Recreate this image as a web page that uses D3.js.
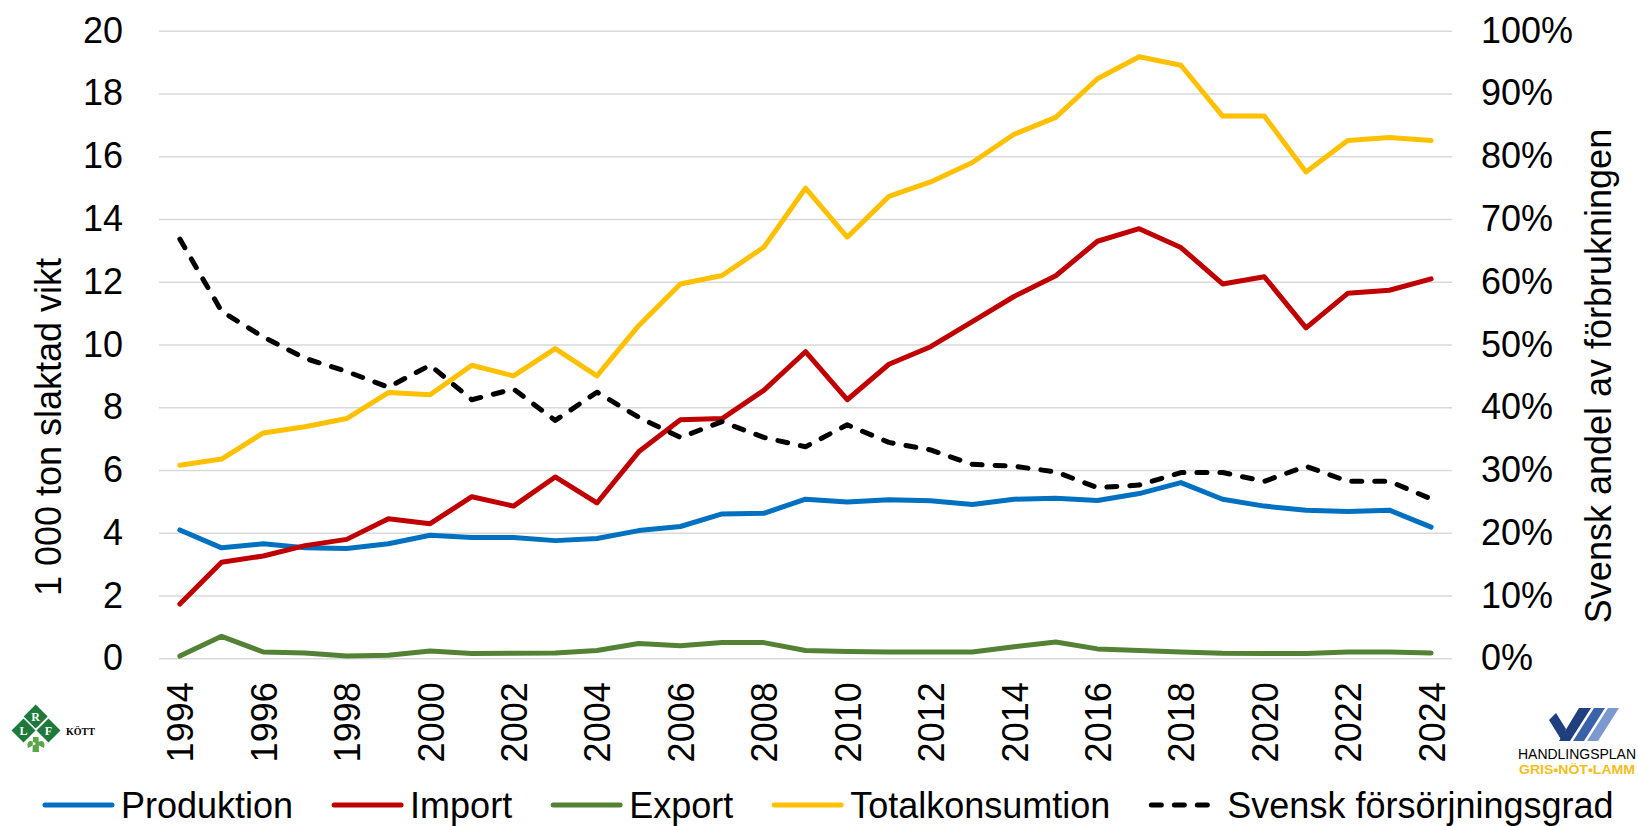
<!DOCTYPE html>
<html>
<head>
<meta charset="utf-8">
<script src="https://cdn.jsdelivr.net/npm/d3@7"></script>
<style>
  html, body { margin: 0; padding: 0; background: #fff; }
  svg { display: block; font-family: "Liberation Sans", Arial, sans-serif; }
</style>
</head>
<body>
<svg id="chart" width="1638" height="826"></svg>
<script>
// Data (1 000 ton slaktad vikt / percent)
var years = [1994, 1995, 1996, 1997, 1998, 1999, 2000, 2001, 2002, 2003, 2004,
  2005, 2006, 2007, 2008, 2009, 2010, 2011, 2012, 2013, 2014,
  2015, 2016, 2017, 2018, 2019, 2020, 2021, 2022, 2023, 2024];

var produktion = [4.09, 3.52, 3.65, 3.52, 3.50, 3.65, 3.92, 3.85, 3.85, 3.75, 3.82,
  4.07, 4.20, 4.60, 4.62, 5.07, 4.98, 5.05, 5.02, 4.90, 5.07,
  5.10, 5.03, 5.25, 5.60, 5.07, 4.85, 4.72, 4.68, 4.72, 4.18];

var importVals = [1.73, 3.06, 3.26, 3.59, 3.79, 4.45, 4.29, 5.15, 4.85, 5.78, 4.95,
  6.58, 7.60, 7.64, 8.54, 9.77, 8.24, 9.37, 9.93, 10.73, 11.53,
  12.19, 13.29, 13.69, 13.09, 11.93, 12.16, 10.53, 11.63, 11.73, 12.09];

var exportVals = [0.07, 0.70, 0.20, 0.17, 0.07, 0.10, 0.23, 0.15, 0.16, 0.17, 0.25,
  0.47, 0.40, 0.50, 0.50, 0.25, 0.22, 0.20, 0.20, 0.20, 0.37,
  0.52, 0.30, 0.25, 0.20, 0.16, 0.15, 0.15, 0.20, 0.20, 0.17];

var totalkonsumtion = [6.15, 6.35, 7.18, 7.38, 7.64, 8.47, 8.40, 9.34, 9.00, 9.87, 9.00,
  10.60, 11.93, 12.20, 13.10, 14.98, 13.42, 14.72, 15.18, 15.80, 16.70,
  17.24, 18.47, 19.17, 18.90, 17.28, 17.28, 15.50, 16.50, 16.60, 16.50];

var forsorjningsgrad = [66.8, 55.3, 51.2, 47.8, 45.7, 43.2, 46.7, 41.2, 42.9, 37.9, 42.4,
  38.4, 35.2, 37.7, 35.2, 33.7, 37.2, 34.4, 33.2, 30.9, 30.6,
  29.7, 27.2, 27.6, 29.6, 29.6, 28.2, 30.6, 28.2, 28.2, 25.4];

var leftTicks = [0, 2, 4, 6, 8, 10, 12, 14, 16, 18, 20];
var rightTicks = [0, 10, 20, 30, 40, 50, 60, 70, 80, 90, 100];
var yearTicks = [1994, 1996, 1998, 2000, 2002, 2004, 2006, 2008,
  2010, 2012, 2014, 2016, 2018, 2020, 2022, 2024];

var seriesNames = ["Produktion", "Import", "Export", "Totalkonsumtion", "Svensk försörjningsgrad"];

var series = [
  { name: seriesNames[0], values: produktion, color: "#0070c0", axis: "left" },
  { name: seriesNames[1], values: importVals, color: "#c00000", axis: "left" },
  { name: seriesNames[2], values: exportVals, color: "#548235", axis: "left" },
  { name: seriesNames[3], values: totalkonsumtion, color: "#ffc000", axis: "left" },
  { name: seriesNames[4], values: forsorjningsgrad, color: "#000000", axis: "right", dash: "10,13" }
];

var svg = d3.select("#chart");
var plotLeft = 159, plotRight = 1452, plotTop = 30.7, plotBottom = 658.3;
var fontSize = 36;
var fontFam = "'Liberation Sans', Arial, sans-serif";

var x = d3.scalePoint().domain(years).range([plotLeft, plotRight]).padding(0.5);
var y = d3.scaleLinear().domain([0, 20]).range([plotBottom, plotTop]);
var y2 = d3.scaleLinear().domain([0, 100]).range([plotBottom, plotTop]);

// gridlines + left labels
var gLeft = svg.append("g")
  .attr("transform", "translate(" + plotLeft + ",0)")
  .call(d3.axisLeft(y).tickValues(leftTicks).tickSize(-(plotRight - plotLeft)).tickPadding(36));
gLeft.select(".domain").remove();
gLeft.selectAll(".tick line").attr("stroke", "#d9d9d9").attr("stroke-width", 1.5);
gLeft.selectAll(".tick text").attr("fill", "#000").style("font-size", fontSize + "px")
  .style("font-family", fontFam);

// right labels
var gRight = svg.append("g")
  .attr("transform", "translate(" + plotRight + ",0)")
  .call(d3.axisRight(y2).tickValues(rightTicks).tickSize(0).tickPadding(29)
    .tickFormat(function(d) { return d + "%"; }));
gRight.select(".domain").remove();
gRight.selectAll(".tick text").attr("fill", "#000").style("font-size", fontSize + "px")
  .style("font-family", fontFam);

// year labels, rotated
var gBottom = svg.append("g")
  .attr("transform", "translate(0," + plotBottom + ")")
  .call(d3.axisBottom(x).tickValues(yearTicks).tickSize(0));
gBottom.select(".domain").remove();
gBottom.selectAll(".tick text")
  .attr("fill", "#000")
  .attr("x", -24).attr("y", 0).attr("dy", "0.36em")
  .attr("transform", "rotate(-90)")
  .style("text-anchor", "end")
  .style("font-size", fontSize + "px")
  .style("font-family", fontFam);

// axis titles
svg.append("text")
  .attr("transform", "translate(48,427) rotate(-90)")
  .attr("text-anchor", "middle").attr("dominant-baseline", "central")
  .style("font-size", fontSize + "px")
  .text("1 000 ton slaktad vikt");

svg.append("text")
  .attr("transform", "translate(1598,376) rotate(-90)")
  .attr("text-anchor", "middle").attr("dominant-baseline", "central")
  .style("font-size", fontSize + "px")
  .text("Svensk andel av förbrukningen");

// lines
series.forEach(function(s) {
  var yy = s.axis === "right" ? y2 : y;
  var line = d3.line()
    .x(function(d, i) { return x(years[i]); })
    .y(function(d) { return yy(d); });
  svg.append("path")
    .datum(s.values)
    .attr("d", line)
    .attr("fill", "none")
    .attr("stroke", s.color)
    .attr("stroke-width", 5)
    .attr("stroke-linejoin", "round")
    .attr("stroke-linecap", "round")
    .attr("stroke-dasharray", s.dash || null);
});

// legend
var lx = 43, ly = 805;
series.forEach(function(s) {
  svg.append("line")
    .attr("x1", lx + 2).attr("x2", lx + 69).attr("y1", ly).attr("y2", ly)
    .attr("stroke", s.color).attr("stroke-width", 5)
    .attr("stroke-linecap", "round")
    .attr("stroke-dasharray", s.dash ? "10,13" : null);
  var t = svg.append("text")
    .attr("x", lx + 78).attr("y", ly)
    .attr("dominant-baseline", "central")
    .style("font-size", fontSize + "px")
    .text(s.name);
  lx = lx + 78 + t.node().getComputedTextLength() + 39;
});

// LRF Kött logo (approximation)
var lrf = svg.append("g");
var diamonds = [["R", 35.7, 716.5], ["L", 23.5, 730.5], ["F", 48.5, 730.5]];
lrf.append("path")
  .attr("d", "M33,737 L38.5,737 L39,752 L32.5,752 Z M36,744 C30,738 26,742 28,748 Z M36,744 C42,738 46,742 44,748 Z")
  .attr("fill", "#5aa64a");
diamonds.forEach(function(d) {
  lrf.append("path")
    .attr("d", "M" + d[1] + "," + (d[2] - 12) + " L" + (d[1] + 12) + "," + d[2] +
      " L" + d[1] + "," + (d[2] + 12) + " L" + (d[1] - 12) + "," + d[2] + " Z")
    .attr("fill", "#1d7a3a");
  lrf.append("text")
    .attr("x", d[1]).attr("y", d[2] + 4)
    .attr("text-anchor", "middle")
    .attr("fill", "#fff")
    .style("font-family", "'Liberation Serif', serif").style("font-weight", "bold")
    .style("font-size", "12px")
    .text(d[0]);
});
lrf.append("text")
  .attr("x", 66).attr("y", 735)
  .style("font-family", "'Liberation Serif', serif").style("font-weight", "bold")
  .style("font-size", "10px")
  .text("KÖTT");

// Handlingsplan logo (approximation)
var hp = svg.append("g");
hp.append("path").attr("d", "M1549,720 L1556,713 L1566,729 L1562,741 Z").attr("fill", "#1f3f7f");
hp.append("path").attr("d", "M1559,741 L1579,708 L1591,708 L1570,741 Z").attr("fill", "#1f3f7f");
hp.append("path").attr("d", "M1573,741 L1594,708 L1605,708 L1584,741 Z").attr("fill", "#3a62a8");
hp.append("path").attr("d", "M1587,741 L1608,708 L1619,708 L1598,741 Z").attr("fill", "#7b98cf");
hp.append("text")
  .attr("x", 1577).attr("y", 759).attr("text-anchor", "middle")
  .style("font-size", "14px").attr("textLength", 118).attr("lengthAdjust", "spacingAndGlyphs")
  .text("HANDLINGSPLAN");
hp.append("text")
  .attr("x", 1577).attr("y", 774).attr("text-anchor", "middle")
  .style("font-size", "13px").style("font-weight", "bold").attr("fill", "#f2bd1d")
  .attr("textLength", 116).attr("lengthAdjust", "spacingAndGlyphs")
  .text("GRIS•NÖT•LAMM");
</script>
</body>
</html>
